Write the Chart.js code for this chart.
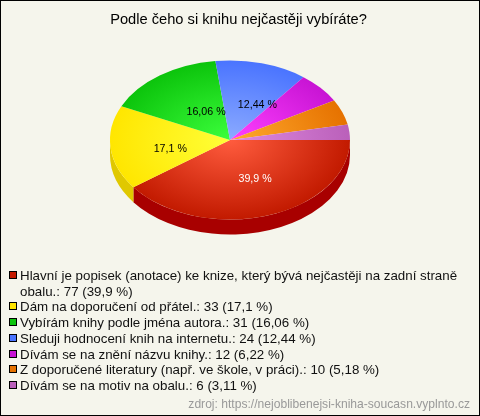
<!DOCTYPE html>
<html lang="cs">
<head>
<meta charset="utf-8">
<title>Podle čeho si knihu nejčastěji vybíráte?</title>
<script src="https://cdn.jsdelivr.net/npm/chart.js@4"></script>
<style>
  html, body { margin: 0; padding: 0; background: #f5f5ec; }
  #ramec { position: relative; width: 480px; height: 416px; box-sizing: border-box; border: 1px solid #000; overflow: hidden; font-family: "Liberation Sans", Arial, sans-serif; }
  #graf { position: absolute; left: -1px; top: -1px; }
  #nadpis { position: absolute; left: 0; top: 9px; width: 475px; text-align: center; font-size: 14.67px; line-height: 18px; color: #000; }
  #legenda { position: absolute; left: 7px; top: 267px; width: 452px; margin: 0; padding: 0; list-style: none; font-size: 13.33px; line-height: 15.7px; color: #111; }
  #legenda li { position: relative; padding-left: 12px; }
  #legenda i { position: absolute; left: 1px; top: 3px; width: 6px; height: 6px; border: 1px solid #000; }
  #zdroj { position: absolute; right: 9px; top: 396px; font-size: 12.1px; line-height: 14px; color: #999; white-space: nowrap; }
</style>
</head>
<body>
<div id="ramec">
  <canvas id="graf" width="480" height="416"></canvas>
  <div id="nadpis"></div>
  <ul id="legenda"></ul>
  <div id="zdroj">zdroj: https://nejoblibenejsi-kniha-soucasn.vyplnto.cz</div>
</div>
<script>
const nadpis = 'Podle čeho si knihu nejčastěji vybíráte?';
const kategorie = [
  'Hlavní je popisek (anotace) ke knize, který bývá nejčastěji na zadní straně obalu.',
  'Dám na doporučení od přátel.',
  'Vybírám knihy podle jména autora.',
  'Sleduji hodnocení knih na internetu.',
  'Dívám se na znění názvu knihy.',
  'Z doporučené literatury (např. ve škole, v práci).',
  'Dívám se na motiv na obalu.'
];
const hodnoty = [77, 33, 31, 24, 12, 10, 6];
const procenta = ['39,9', '17,1', '16,06', '12,44', '6,22', '5,18', '3,11'];
const barvyStred = ['#ff5c3e', '#ffff38', '#3cff3c', '#8cabff', '#ff40ff', '#ffaa2e', '#e08ae0'];
const barvyOkraj = ['#c21a00', '#ffe600', '#0cc40c', '#4a74ff', '#c814d4', '#e67200', '#ba60ba'];
const barvyBok = ['#a80000', '#e0c800', '#0a9a0a', '#3a5ac8', '#9a10a8', '#b85a00', '#944c94'];
const barvyLegenda = ['#c41a00', '#ffe400', '#0cc40c', '#4a74ff', '#c814d4', '#e67200', '#ba60ba'];

// pie is a circle in Chart.js, so it gets squashed to an ellipse while drawing
const STRED_X = 230, STRED_Y = 140, POLOMER = 120, ZPLOSTENI = 0.6625, HLOUBKA = 15;
const popisky = [
  { barva: '#fff', fx: 0.67, fy: 0.52 },
  { barva: '#000', fx: 0.5, fy: 1.15 },
  { barva: '#000', fx: 0.34, fy: 0.43 },
  { barva: '#000', fx: 0.86, fy: 0.46 }
];

const zplostit = (ctx) => {
  ctx.translate(STRED_X, STRED_Y);
  ctx.scale(1, ZPLOSTENI);
  ctx.translate(-STRED_X, -STRED_Y);
};

const elipsa = {
  id: 'elipsa',
  beforeDatasetDraw(chart) {
    const ctx = chart.ctx;
    ctx.save();
    zplostit(ctx);
    // side wall, only the front half of the rim is visible
    chart.getDatasetMeta(0).data.forEach((oblouk, i) => {
      const od = Math.max(oblouk.startAngle, 0);
      const po = Math.min(oblouk.endAngle, Math.PI);
      if (po <= od) return;
      const dy = HLOUBKA / ZPLOSTENI;
      ctx.beginPath();
      ctx.arc(oblouk.x, oblouk.y, oblouk.outerRadius, od, po);
      ctx.arc(oblouk.x, oblouk.y + dy, oblouk.outerRadius, po, od, true);
      ctx.closePath();
      ctx.fillStyle = barvyBok[i];
      ctx.fill();
    });
  },
  afterDatasetDraw(chart) {
    const ctx = chart.ctx;
    ctx.restore();
    ctx.save();
    ctx.font = '10.67px "Liberation Sans", Arial, sans-serif';
    ctx.textAlign = 'center';
    ctx.textBaseline = 'middle';
    chart.getDatasetMeta(0).data.forEach((oblouk, i) => {
      const p = popisky[i];
      if (!p) return;
      const uhel = (oblouk.startAngle + oblouk.endAngle) / 2;
      const x = oblouk.x + Math.cos(uhel) * oblouk.outerRadius * p.fx;
      const y = oblouk.y + Math.sin(uhel) * oblouk.outerRadius * ZPLOSTENI * p.fy;
      ctx.fillStyle = p.barva;
      ctx.fillText(procenta[i] + ' %', x, y);
    });
    ctx.restore();
  }
};

const vyplnSegmentu = (kontext) => {
  const i = kontext.dataIndex;
  const ctx = kontext.chart.ctx;
  const g = ctx.createRadialGradient(STRED_X, STRED_Y, 0, STRED_X, STRED_Y, POLOMER);
  g.addColorStop(0, barvyStred[i]);
  g.addColorStop(1, barvyOkraj[i]);
  return g;
};

document.getElementById('nadpis').textContent = nadpis;

const legenda = document.getElementById('legenda');
kategorie.forEach((nazev, i) => {
  const li = document.createElement('li');
  const ctverec = document.createElement('i');
  ctverec.style.background = barvyLegenda[i];
  li.appendChild(ctverec);
  li.appendChild(document.createTextNode(nazev + ': ' + hodnoty[i] + ' (' + procenta[i] + ' %)'));
  legenda.appendChild(li);
});

new Chart(document.getElementById('graf'), {
  type: 'pie',
  data: {
    labels: kategorie,
    datasets: [{
      data: hodnoty,
      backgroundColor: vyplnSegmentu,
      borderWidth: 0,
      clip: false
    }]
  },
  options: {
    responsive: false,
    animation: false,
    rotation: 90,
    radius: POLOMER,
    layout: { padding: { top: 20, left: 110, right: 130, bottom: 156 } },
    plugins: {
      legend: { display: false },
      tooltip: { enabled: false }
    }
  },
  plugins: [elipsa]
});
</script>
</body>
</html>
